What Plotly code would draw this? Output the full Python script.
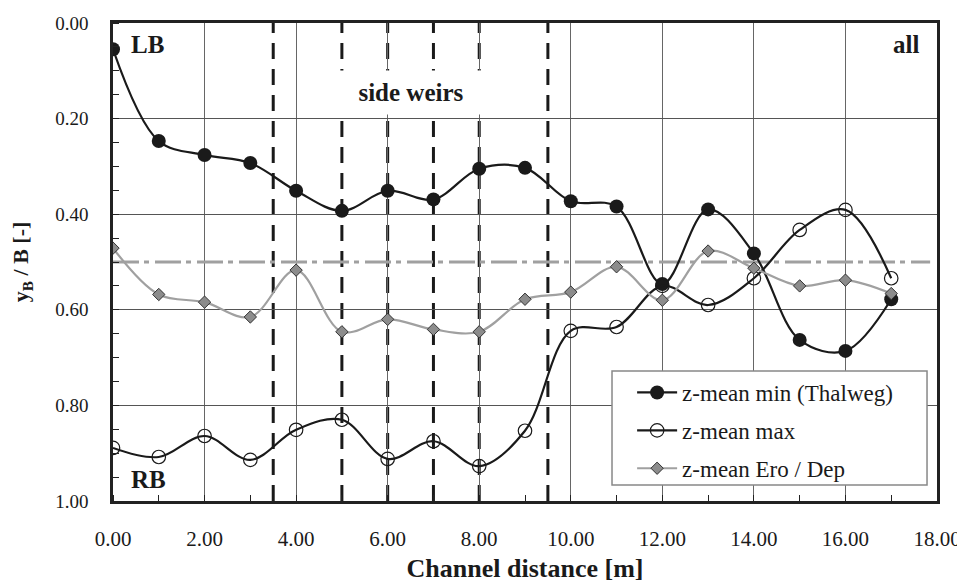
import plotly.graph_objects as go

# ---- data ----
distance = [0, 1, 2, 3, 4, 5, 6, 7, 8, 9, 10, 11, 12, 13, 14, 15, 16, 17]
zmin_thalweg = [0.055, 0.247, 0.276, 0.293, 0.351, 0.393, 0.351, 0.369, 0.305, 0.303,
                0.373, 0.384, 0.546, 0.390, 0.482, 0.663, 0.686, 0.578]
zmax = [0.889, 0.908, 0.864, 0.914, 0.851, 0.830, 0.912, 0.875, 0.927, 0.853,
        0.644, 0.636, 0.550, 0.590, 0.534, 0.433, 0.391, 0.534]
zero_dep = [0.471, 0.568, 0.584, 0.615, 0.517, 0.646, 0.620, 0.641, 0.646, 0.578,
            0.563, 0.510, 0.580, 0.477, 0.513, 0.550, 0.538, 0.566]
weir_x = [3.5, 5, 6, 7, 8, 9.5]
centre_line_y = 0.5
centre_line_x = [0, 17.85]
x_ticks = [0, 2, 4, 6, 8, 10, 12, 14, 16, 18]
y_ticks = [0.0, 0.2, 0.4, 0.6, 0.8, 1.0]

FONT = "Liberation Serif, Times New Roman, serif"
BLACK = "#1a1a1a"
GREY = "#a0a0a0"

fig = go.Figure()

# centre line (dash-dot)
fig.add_trace(go.Scatter(
    x=centre_line_x, y=[centre_line_y] * len(centre_line_x), mode="lines",
    line=dict(color=GREY, width=3, dash="26px,5px,5px,6px"),
    showlegend=False, hoverinfo="skip"))

fig.add_trace(go.Scatter(
    x=distance, y=zmin_thalweg, mode="lines+markers", name="z-mean min (Thalweg)",
    legendgroup="a",
    line=dict(color=BLACK, width=2.2, shape="spline", smoothing=1.0),
    marker=dict(symbol="circle", size=14, color=BLACK)))

fig.add_trace(go.Scatter(
    x=distance, y=zmax, mode="lines+markers", name="z-mean max",
    legendgroup="b",
    line=dict(color=BLACK, width=2.2, shape="spline", smoothing=1.0),
    marker=dict(symbol="circle", size=13.5, color="rgba(0,0,0,0)",
                line=dict(color=BLACK, width=1.2))))

fig.add_trace(go.Scatter(
    x=distance, y=zero_dep, mode="lines+markers", name="z-mean Ero / Dep",
    legendgroup="c",
    line=dict(color=GREY, width=2.2, shape="spline", smoothing=1.0),
    marker=dict(symbol="diamond", size=9.5, color="#8c8c8c",
                line=dict(color="#333333", width=1))))

shapes = []
for wx in weir_x:
    shapes.append(dict(type="line", xref="x", yref="paper", x0=wx, x1=wx, y0=0, y1=1,
                       line=dict(color=BLACK, width=3, dash="16px,10px"), layer="between"))
# legend frame
shapes.append(dict(type="rect", xref="paper", yref="paper", x0=0.6056, x1=0.9879, y0=0.0335, y1=0.272,
                   fillcolor="white", line=dict(color="#888888", width=1.5), layer="above"))

annotations = [
    dict(text="<b>LB</b>", x=0.35, y=0.046, xref="x", yref="y", xanchor="left", yanchor="middle",
         showarrow=False, font=dict(family=FONT, size=25, color=BLACK)),
    dict(text="<b>all</b>", x=17.66, y=0.044, xref="x", yref="y", xanchor="right", yanchor="middle",
         showarrow=False, font=dict(family=FONT, size=25, color=BLACK)),
    dict(text="<b>RB</b>", x=0.35, y=0.954, xref="x", yref="y", xanchor="left", yanchor="middle",
         showarrow=False, font=dict(family=FONT, size=25, color=BLACK)),
    dict(text="<b>side weirs</b>", x=6.5, y=0.145, xref="x", yref="y", xanchor="center", yanchor="middle",
         showarrow=False, font=dict(family=FONT, size=25, color=BLACK),
         bgcolor="white", width=142, height=43, borderpad=0),
]

fig.update_layout(
    width=957, height=575,
    margin=dict(l=105, r=28, t=15, b=82),
    paper_bgcolor="white", plot_bgcolor="white",
    font=dict(family=FONT, color=BLACK),
    shapes=shapes, annotations=annotations,
    legend=dict(x=0.630, y=0.272, xanchor="left", yanchor="top",
                bgcolor="rgba(0,0,0,0)", borderwidth=0,
                font=dict(family=FONT, size=23, color=BLACK),
                tracegroupgap=5, itemwidth=40),
)

fig.update_xaxes(
    range=[0, 18], tickvals=x_ticks, ticktext=[f"{v:.2f}" for v in x_ticks],
    tickfont=dict(family=FONT, size=21, color=BLACK), ticks="", ticklabelstandoff=17,
    showgrid=True, gridcolor="#666666", gridwidth=1,
    showline=True, linecolor="#222222", linewidth=2.5, mirror=True,
    zeroline=False,
    minor=dict(dtick=1, tick0=0, ticks="inside", ticklen=6, tickcolor="#222222", tickwidth=1, showgrid=False),
    title=dict(text="<b>Channel distance [m]</b>", font=dict(family=FONT, size=26, color=BLACK), standoff=12),
    automargin=False,
)

fig.update_yaxes(
    range=[1, 0], tickvals=y_ticks, ticktext=[f"{v:.2f}" for v in y_ticks],
    tickfont=dict(family=FONT, size=19, color=BLACK), ticks="", ticklabelstandoff=18,
    showgrid=True, gridcolor="#555555", gridwidth=1,
    showline=True, linecolor="#222222", linewidth=2.5, mirror=True,
    zeroline=False,
    minor=dict(dtick=0.05, tick0=0, ticks="inside", ticklen=6, tickcolor="#222222", tickwidth=1, showgrid=False),
    title=dict(text="<b>y<sub>B</sub> / B [-]</b>", font=dict(family=FONT, size=22, color=BLACK), standoff=24),
    automargin=False,
)

fig.write_html("out.html")
